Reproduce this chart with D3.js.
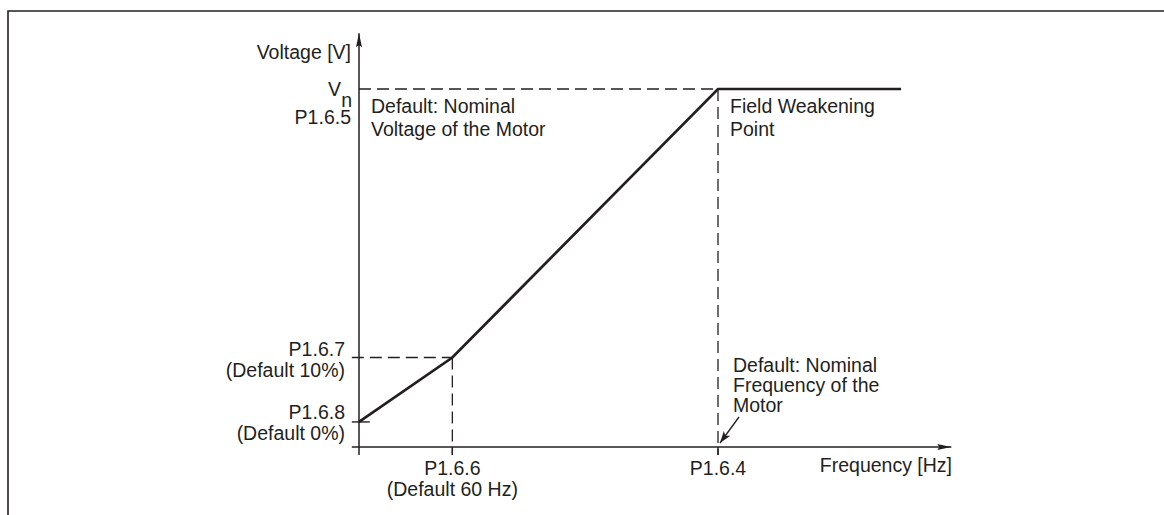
<!DOCTYPE html>
<html>
<head>
<meta charset="utf-8">
<script src="https://cdn.jsdelivr.net/npm/d3@7"></script>
<style>
  html, body { margin: 0; padding: 0; background: #fff; }
  svg text { font-family: "Liberation Sans", Arial, Helvetica, sans-serif; font-size: 19.5px; fill: #231f20; }
</style>
</head>
<body>
<svg id="chart" width="1164" height="515"></svg>
<script>
// ---- Data (frequency in % of field weakening point, voltage in % of Vn) ----
const curveFreq    = [0, 26, 100, 151];
const curveVoltage = [7, 25, 100, 100];
const xTickValues  = [26, 100];
const xTickLabels  = [["P1.6.6", "(Default 60 Hz)"], ["P1.6.4"]];
const yTickValues  = [7, 25, 100];
const yTickLabels  = [["P1.6.8", "(Default 0%)"], ["P1.6.7", "(Default 10%)"], ["V", "P1.6.5"]];
const xAxisTitle   = "Frequency [Hz]";
const yAxisTitle   = "Voltage [V]";
const noteVoltage  = ["Default: Nominal", "Voltage of the Motor"];
const noteFWP      = ["Field Weakening", "Point"];
const noteFreq     = ["Default: Nominal", "Frequency of the", "Motor"];

const svg = d3.select("#chart");
const ink = "#231f20";

const x = d3.scaleLinear().domain([0, 100]).range([359, 718]);
const y = d3.scaleLinear().domain([0, 100]).range([447, 89]);

// frame
svg.append("path").attr("d", "M8,515 L8,11 L1164,11")
  .attr("fill", "none").attr("stroke", ink).attr("stroke-width", 1.6);

// arrow markers
const defs = svg.append("defs");
defs.append("marker").attr("id", "ah").attr("viewBox", "0 0 14 6")
  .attr("refX", 14).attr("refY", 3).attr("markerWidth", 14).attr("markerHeight", 6)
  .attr("markerUnits", "userSpaceOnUse").attr("orient", "auto")
  .append("path").attr("d", "M0,0 L14,3 L0,6 L2,3 Z").attr("fill", ink);
defs.append("marker").attr("id", "ahs").attr("viewBox", "0 0 12 8")
  .attr("refX", 12).attr("refY", 4).attr("markerWidth", 12).attr("markerHeight", 8)
  .attr("markerUnits", "userSpaceOnUse").attr("orient", "auto")
  .append("path").attr("d", "M0,0 L12,4 L0,8 L3,4 Z").attr("fill", ink);

// axes
svg.append("line").attr("x1", x(0)).attr("y1", y(-2.2)).attr("x2", x(0)).attr("y2", y(115.6))
  .attr("stroke", ink).attr("stroke-width", 1.5).attr("marker-end", "url(#ah)");
svg.append("line").attr("x1", x(-2)).attr("y1", y(0)).attr("x2", x(165)).attr("y2", y(0))
  .attr("stroke", ink).attr("stroke-width", 1.5).attr("marker-end", "url(#ah)");

// dashed guides
const dash = "12,6";
const guides = [
  [x(0), y(100), x(100), y(100)],
  [x(-2), y(25), x(26), y(25)],
  [x(26), y(25), x(26), y(-2.2)],
  [x(100), y(100), x(100), y(-2.2)]
];
svg.selectAll(".guide").data(guides).enter().append("line").attr("class", "guide")
  .attr("x1", d => d[0]).attr("y1", d => d[1]).attr("x2", d => d[2]).attr("y2", d => d[3])
  .attr("stroke", ink).attr("stroke-width", 1.3).attr("stroke-dasharray", dash);

// small solid ticks
svg.append("line").attr("x1", x(-2)).attr("y1", y(7)).attr("x2", x(3)).attr("y2", y(7))
  .attr("stroke", ink).attr("stroke-width", 1.4);
svg.append("line").attr("x1", x(26)).attr("y1", y(0)).attr("x2", x(26)).attr("y2", y(-2.2))
  .attr("stroke", ink).attr("stroke-width", 1.4);
svg.append("line").attr("x1", x(100)).attr("y1", y(0)).attr("x2", x(100)).attr("y2", y(-2.2))
  .attr("stroke", ink).attr("stroke-width", 1.4);

// curve
const pts = curveFreq.map((f, i) => [x(f), y(curveVoltage[i])]);
svg.append("path").attr("d", d3.line()(pts))
  .attr("fill", "none").attr("stroke", ink).attr("stroke-width", 2.7).attr("stroke-linejoin", "miter");

function multiline(xp, ys, lines, anchor) {
  const t = svg.append("g");
  lines.forEach((s, i) => t.append("text").attr("x", xp).attr("y", ys[i]).attr("text-anchor", anchor).text(s));
  return t;
}

// y axis title
svg.append("text").attr("x", 351).attr("y", 59).attr("text-anchor", "end").text(yAxisTitle);

// Vn label with subscript
svg.append("text").attr("x", 341).attr("y", y(100) + 7).attr("text-anchor", "end").text(yTickLabels[2][0]);
svg.append("text").attr("x", 352).attr("y", y(100) + 18).attr("text-anchor", "end").text("n");
svg.append("text").attr("x", 351).attr("y", y(100) + 35).attr("text-anchor", "end").text(yTickLabels[2][1]);

multiline(345, [y(25) - 2, y(25) + 19], yTickLabels[1], "end");
multiline(345, [y(7) - 3, y(7) + 18], yTickLabels[0], "end");

// x labels
multiline(x(26), [475, 496], xTickLabels[0], "middle");
multiline(x(100), [475], xTickLabels[1], "middle");
svg.append("text").attr("x", 952).attr("y", 472).attr("text-anchor", "end").text(xAxisTitle);

// notes
multiline(371, [113, 136], noteVoltage, "start");
multiline(730, [113, 136], noteFWP, "start");
multiline(733, [372, 392, 412], noteFreq, "start");

// pointer arrow
svg.append("line").attr("x1", 739).attr("y1", 417).attr("x2", x(100) + 2).attr("y2", y(0) - 4)
  .attr("stroke", ink).attr("stroke-width", 1.3).attr("marker-end", "url(#ahs)");
</script>
</body>
</html>
